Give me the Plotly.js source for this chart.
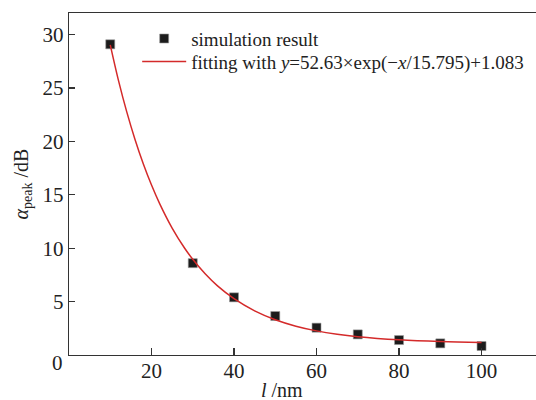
<!DOCTYPE html>
<html>
<head>
<meta charset="utf-8">
<script src="https://cdn.plot.ly/plotly-3.0.1.min.js"></script>
<style>html,body{margin:0;padding:0;background:#fff;}#chart{width:536px;height:400px;}</style>
</head>
<body>
<div id="chart"></div>
<script>
// Simulation points
const simX = [10, 30, 40, 50, 60, 70, 80, 90, 100];
const simY = [29.1, 8.6, 5.4, 3.65, 2.56, 1.93, 1.4, 1.09, 0.84];
// Fitted curve
const fitX = [10, 12, 14, 16, 18, 20, 22, 25, 28, 30, 33, 36, 40, 45, 50, 55, 60, 65, 70, 80, 90, 100];
const fitY = [29.05, 25.7, 22.77, 20.19, 17.92, 15.92, 14.16, 11.89, 10.02, 8.96, 7.6, 6.47, 5.27, 4.13, 3.3, 2.7, 2.26, 1.94, 1.71, 1.42, 1.26, 1.18];
// Labels
const simName = 'simulation result';
const fitName = 'fitting with <i>y</i>=52.63×exp(−<i>x</i>/15.795)+1.083';
const xTickVals = [20, 40, 60, 80, 100];
const xTickText = ['20', '40', '60', '80', '100'];
const yTickVals = [5, 10, 15, 20, 25, 30];
const yTickText = ['5', '10', '15', '20', '25', '30'];
const zeroLabel = '0';
const xTitle = '<i>l</i> /nm';
const yTitle = '<i>α</i><sub>peak</sub> /dB';

const FONT = 'Liberation Serif, Times New Roman, serif';
const AX = '#333';

const traces = [
  {x: simX, y: simY, name: simName, type: 'scatter', mode: 'markers', legend: 'legend',
   marker: {symbol: 'square', size: 9, color: '#1c1c1c', line: {color: '#999', width: 0.6}}},
  {x: fitX, y: fitY, name: fitName, type: 'scatter', mode: 'lines', legend: 'legend2',
   line: {color: '#d42a2a', width: 1.5, shape: 'spline'}}
];

const legBase = {xanchor: 'left', yanchor: 'middle', bgcolor: 'rgba(0,0,0,0)',
                 font: {family: FONT, size: 19, color: '#222'}, itemwidth: 44};

const layout = {
  width: 536, height: 400,
  margin: {l: 69, r: 0, t: 13, b: 45},
  paper_bgcolor: '#fff', plot_bgcolor: '#fff',
  font: {family: FONT, size: 21, color: '#222'},
  showlegend: true,
  legend: Object.assign({}, legBase, {x: 0.146, y: 0.925}),
  legend2: Object.assign({}, legBase, {x: 0.146, y: 0.858}),
  xaxis: {range: [0, 113.2], tickvals: xTickVals, ticktext: xTickText,
          ticks: 'inside', ticklen: 7, tickwidth: 1.2, tickcolor: AX,
          showline: true, linecolor: AX, linewidth: 1.3, mirror: true,
          showgrid: false, zeroline: false, tickfont: {size: 21}, ticklabelstandoff: -4},
  yaxis: {range: [0, 32.03], tickvals: yTickVals, ticktext: yTickText,
          ticks: 'inside', ticklen: 6, tickwidth: 1.2, tickcolor: AX,
          showline: true, linecolor: AX, linewidth: 1.3,
          showgrid: false, zeroline: false, tickfont: {size: 21},
          title: {text: yTitle, font: {size: 20}, standoff: 8}},
  annotations: [
    {text: xTitle, xref: 'paper', yref: 'paper', x: 0.456, y: -0.101,
     xanchor: 'center', yanchor: 'middle', showarrow: false, font: {size: 20}},
    {text: zeroLabel, xref: 'paper', yref: 'paper', x: -0.008, y: -0.024,
     xanchor: 'right', yanchor: 'middle', showarrow: false, font: {size: 21}}
  ]
};

Plotly.newPlot('chart', traces, layout, {displayModeBar: false, staticPlot: true});
</script>
</body>
</html>
